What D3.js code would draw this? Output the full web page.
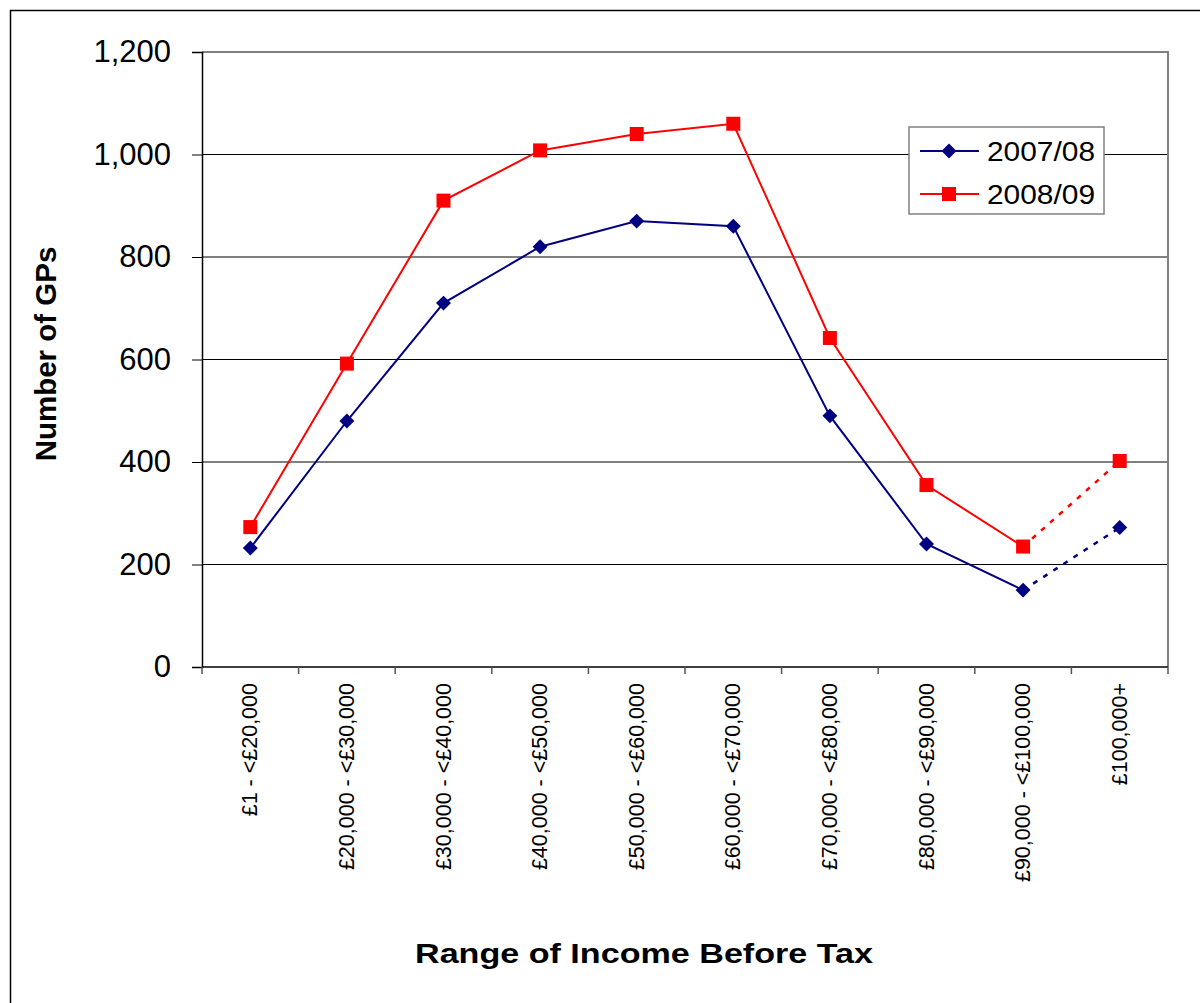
<!DOCTYPE html>
<html>
<head>
<meta charset="utf-8">
<script src="https://cdnjs.cloudflare.com/ajax/libs/d3/7.8.5/d3.min.js"></script>
<style>
  html, body { margin: 0; padding: 0; background: #fff; }
  svg { display: block; }
  text { font-family: "Liberation Sans", Arial, sans-serif; }
</style>
</head>
<body>
<svg id="chart" width="1200" height="1003"></svg>
<script>
const categories = ["£1 - <£20,000", "£20,000 - <£30,000", "£30,000 - <£40,000", "£40,000 - <£50,000",
  "£50,000 - <£60,000", "£60,000 - <£70,000", "£70,000 - <£80,000", "£80,000 - <£90,000",
  "£90,000 - <£100,000", "£100,000+"];
const series2007 = [232, 480, 710, 820, 870, 860, 490, 240, 150, 272];
const series2008 = [273, 592, 910, 1008, 1040, 1060, 642, 355, 235, 402];
const seriesNames = ["2007/08", "2008/09"];
const yTicks = [0, 200, 400, 600, 800, 1000, 1200];

const svg = d3.select("#chart");
const L = 202, R = 1168, T = 52, B = 667;

// outer frame (extends beyond the right and bottom edges)
svg.append("rect").attr("x", 10.5).attr("y", 10.5).attr("width", 1300).attr("height", 1100)
  .attr("fill", "none").attr("stroke", "#000").attr("stroke-width", 1.5);

const x = d3.scaleBand().domain(categories).range([L, R]).padding(0);
const y = d3.scaleLinear().domain([0, 1200]).range([B, T]);

// gridlines
svg.append("g").selectAll("line").data(yTicks.filter(d => d > 0 && d < 1200)).join("line")
  .attr("x1", L).attr("x2", R).attr("y1", d => y(d)).attr("y2", d => y(d))
  .attr("stroke", "#000").attr("stroke-width", 1);

// plot border (top/right)
svg.append("path").attr("d", `M${L},${T}H${R}V${B}`).attr("fill", "none")
  .attr("stroke", "#808080").attr("stroke-width", 2);

// y axis
const yAxis = d3.axisLeft(y).tickValues(yTicks).tickSize(10).tickPadding(21)
  .tickFormat(d3.format(","));
const gy = svg.append("g").attr("transform", `translate(${L},0)`).call(yAxis);
gy.select(".domain").attr("stroke", "#000").attr("stroke-width", 1.5);
gy.selectAll(".tick line").attr("stroke", "#000");
gy.selectAll(".tick text").attr("font-size", 31).attr("fill", "#000")
  .attr("font-family", "Liberation Sans, Arial, sans-serif");

// x axis
const boundaries = categories.map(c => x(c)).concat([R]);
svg.append("line").attr("x1", L).attr("x2", R).attr("y1", B).attr("y2", B)
  .attr("stroke", "#000").attr("stroke-width", 1.5);
svg.append("g").selectAll("line").data(boundaries).join("line")
  .attr("x1", d => d).attr("x2", d => d).attr("y1", B).attr("y2", B + 7)
  .attr("stroke", "#555").attr("stroke-width", 1.5);
svg.append("g").selectAll("text").data(categories).join("text")
  .attr("transform", d => `translate(${x(d) + x.bandwidth() / 2 + 7},683) rotate(-90)`)
  .attr("text-anchor", "end").attr("font-size", 21.5).attr("fill", "#000")
  .text(d => d);

// lines
const cx = i => x(categories[i]) + x.bandwidth() / 2;
function drawSeries(vals, color, marker) {
  const pts = vals.map((v, i) => [cx(i), y(v)]);
  const n = pts.length;
  svg.append("path").attr("d", d3.line()(pts.slice(0, n - 1))).attr("fill", "none")
    .attr("stroke", color).attr("stroke-width", 2);
  svg.append("path").attr("d", d3.line()(pts.slice(n - 2))).attr("fill", "none")
    .attr("stroke", color).attr("stroke-width", 2.5).attr("stroke-dasharray", "5,7");
  const g = svg.append("g");
  pts.forEach(p => {
    if (marker === "diamond") {
      g.append("path").attr("d", d3.symbol().type(d3.symbolSquare).size(112)())
        .attr("transform", `translate(${p[0]},${p[1]}) rotate(45)`).attr("fill", color);
    } else {
      g.append("rect").attr("x", p[0] - 7).attr("y", p[1] - 7).attr("width", 14).attr("height", 14)
        .attr("fill", color);
    }
  });
}
drawSeries(series2007, "#000080", "diamond");
drawSeries(series2008, "#ff0000", "square");

// legend
const lg = svg.append("g");
lg.append("rect").attr("x", 909).attr("y", 127).attr("width", 195).attr("height", 87)
  .attr("fill", "#fff").attr("stroke", "#808080").attr("stroke-width", 1.5);
const legendItems = [
  { name: seriesNames[0], color: "#000080", marker: "diamond", yy: 151 },
  { name: seriesNames[1], color: "#ff0000", marker: "square", yy: 194 }
];
legendItems.forEach(it => {
  lg.append("line").attr("x1", 920).attr("x2", 979).attr("y1", it.yy).attr("y2", it.yy)
    .attr("stroke", it.color).attr("stroke-width", 2);
  if (it.marker === "diamond") {
    lg.append("path").attr("d", d3.symbol().type(d3.symbolSquare).size(112)())
      .attr("transform", `translate(949,${it.yy}) rotate(45)`).attr("fill", it.color);
  } else {
    lg.append("rect").attr("x", 942).attr("y", it.yy - 7).attr("width", 14).attr("height", 14).attr("fill", it.color);
  }
  lg.append("text").attr("x", 987).attr("y", it.yy + 9.5).attr("font-size", 27.5)
    .attr("textLength", 108).attr("lengthAdjust", "spacingAndGlyphs")
    .attr("fill", "#000").text(it.name);
});

// axis titles
svg.append("text").attr("x", 415).attr("y", 963)
  .attr("textLength", 458).attr("lengthAdjust", "spacingAndGlyphs")
  .attr("font-size", 28).attr("font-weight", "bold").attr("fill", "#000").text("Range of Income Before Tax");
svg.append("text").attr("transform", "translate(56,354) rotate(-90)").attr("text-anchor", "middle")
  .attr("font-size", 29.5).attr("font-weight", "bold").attr("fill", "#000").text("Number of GPs");
</script>
</body>
</html>
